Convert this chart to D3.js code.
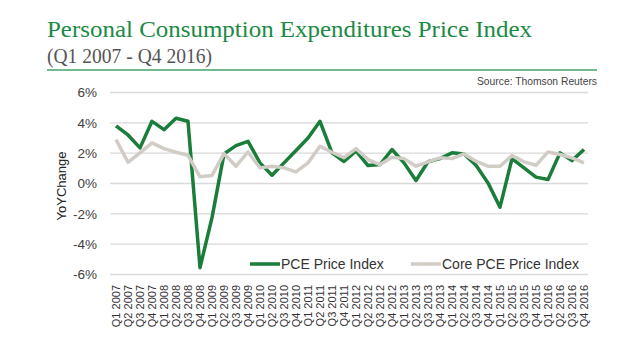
<!DOCTYPE html>
<html>
<head>
<meta charset="utf-8">
<script src="https://cdn.jsdelivr.net/npm/d3@7"></script>
<style>
  html, body { margin: 0; padding: 0; background: #fff; }
  svg { display: block; }
</style>
</head>
<body>
<svg id="chart" width="640" height="357"></svg>
<script>
const categories = ["Q1 2007","Q2 2007","Q3 2007","Q4 2007","Q1 2008","Q2 2008","Q3 2008","Q4 2008",
  "Q1 2009","Q2 2009","Q3 2009","Q4 2009","Q1 2010","Q2 2010","Q3 2010","Q4 2010",
  "Q1 2011","Q2 2011","Q3 2011","Q4 2011","Q1 2012","Q2 2012","Q3 2012","Q4 2012",
  "Q1 2013","Q2 2013","Q3 2013","Q4 2013","Q1 2014","Q2 2014","Q3 2014","Q4 2014",
  "Q1 2015","Q2 2015","Q3 2015","Q4 2015","Q1 2016","Q2 2016","Q3 2016","Q4 2016"];
const pceValues = [3.8,3.2,2.35,4.1,3.55,4.3,4.1,-5.55,
  -2.25,1.95,2.5,2.78,1.36,0.55,1.36,2.17,
  3.0,4.1,2.02,1.45,2.15,1.18,1.25,2.24,
  1.36,0.2,1.43,1.64,2.02,1.95,1.2,0.04,
  -1.56,1.64,1.03,0.42,0.26,2.02,1.51,2.24];
const corePceValues = [2.89,1.4,2.02,2.68,2.3,2.06,1.86,0.44,
  0.53,1.97,1.14,2.08,1.03,1.14,1.03,0.77,
  1.36,2.46,2.06,1.7,2.3,1.58,1.25,1.73,
  1.64,1.14,1.43,1.69,1.64,1.95,1.47,1.14,
  1.14,1.84,1.43,1.2,2.08,1.91,1.69,1.36];
const yTicks = [-6,-4,-2,0,2,4,6];
const seriesNames = ["PCE Price Index","Core PCE Price Index"];
const titleText = "Personal Consumption Expenditures Price Index";
const subtitleText = "(Q1 2007 - Q4 2016)";
const sourceText = "Source: Thomson Reuters";
const yAxisTitle = "YoYChange";

const svg = d3.select("#chart");
const green = "#1a7d3a";
const grey = "#d2ccc6";

// Title block
const title = svg.append("text")
  .attr("x", 47).attr("y", 36.5)
  .attr("font-family", "'Liberation Serif', 'Times New Roman', serif")
  .attr("font-size", 24).attr("fill", "#1b8a45")
  .text(titleText);
title.attr("textLength", 485).attr("lengthAdjust", "spacingAndGlyphs");

const sub = svg.append("text")
  .attr("x", 47).attr("y", 63)
  .attr("font-family", "'Liberation Serif', 'Times New Roman', serif")
  .attr("font-size", 20).attr("fill", "#555")
  .text(subtitleText);
sub.attr("textLength", 165).attr("lengthAdjust", "spacingAndGlyphs");

svg.append("line")
  .attr("x1", 47).attr("x2", 597).attr("y1", 70).attr("y2", 70)
  .attr("stroke", "#6fbb8f").attr("stroke-width", 2);

svg.append("text")
  .attr("x", 597).attr("y", 85).attr("text-anchor", "end")
  .attr("font-family", "Arial, 'Liberation Sans', sans-serif")
  .attr("font-size", 10.3).attr("fill", "#444")
  .text(sourceText);

// Scales
const x = d3.scaleBand().domain(categories).range([110, 590]).padding(0);
const xc = d => x(d) + x.bandwidth() / 2;
const y = d3.scaleLinear().domain([-6, 6]).range([274.5, 92.5]);

// Gridlines
svg.append("g").selectAll("line").data(yTicks).join("line")
  .attr("x1", 110).attr("x2", 588)
  .attr("y1", d => y(d)).attr("y2", d => y(d))
  .attr("stroke", "#d9d9d9").attr("stroke-width", 1.3);

// Y axis labels
const yAxis = d3.axisLeft(y).tickValues(yTicks).tickFormat(d => d + "%").tickSize(0).tickPadding(0);
const yg = svg.append("g").attr("transform", "translate(97,0)").call(yAxis);
yg.select(".domain").remove();
yg.selectAll("text")
  .attr("font-family", "Arial, 'Liberation Sans', sans-serif")
  .attr("font-size", 13.5).attr("fill", "#404040");

// Y axis title
svg.append("text")
  .attr("transform", "translate(66,186) rotate(-90)")
  .attr("text-anchor", "middle")
  .attr("font-family", "Arial, 'Liberation Sans', sans-serif")
  .attr("font-size", 13).attr("fill", "#222")
  .text(yAxisTitle);

// X axis labels
const xAxis = d3.axisBottom(x).tickSize(0).tickPadding(0);
const xg = svg.append("g").attr("transform", "translate(0,285)").call(xAxis);
xg.select(".domain").remove();
xg.selectAll("text")
  .attr("font-family", "Arial, 'Liberation Sans', sans-serif")
  .attr("font-size", 11).attr("fill", "#333")
  .attr("text-anchor", "end")
  .attr("transform", "rotate(-90)")
  .attr("x", 0).attr("y", 0).attr("dy", "0.35em");

// Lines
const line = d3.line().x((d, i) => xc(categories[i])).y(d => y(d));
svg.append("path").datum(pceValues)
  .attr("d", line).attr("fill", "none")
  .attr("stroke", green).attr("stroke-width", 3.5).attr("stroke-linejoin", "round");
svg.append("path").datum(corePceValues)
  .attr("d", line).attr("fill", "none")
  .attr("stroke", grey).attr("stroke-width", 3.5).attr("stroke-linejoin", "round");

// Legend
const legend = [
  {name: seriesNames[0], color: green, x1: 250, x2: 280, tx: 281},
  {name: seriesNames[1], color: grey, x1: 411, x2: 441, tx: 442}
];
const lg = svg.append("g").selectAll("g").data(legend).join("g");
lg.append("line")
  .attr("x1", d => d.x1).attr("x2", d => d.x2).attr("y1", 264).attr("y2", 264)
  .attr("stroke", d => d.color).attr("stroke-width", 3.5);
lg.append("text")
  .attr("x", d => d.tx).attr("y", 269)
  .attr("font-family", "Arial, 'Liberation Sans', sans-serif")
  .attr("font-size", 14).attr("fill", "#333")
  .text(d => d.name);
</script>
</body>
</html>
